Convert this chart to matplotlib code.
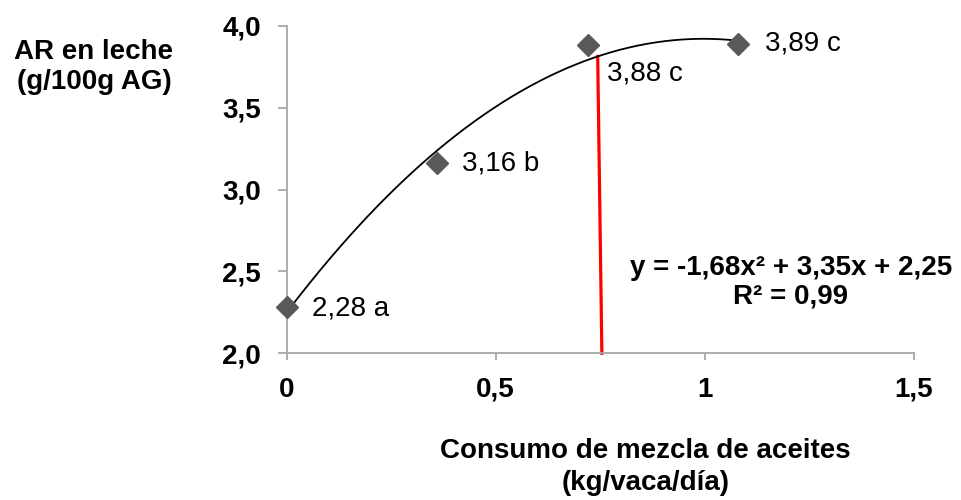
import numpy as np
import matplotlib
matplotlib.use("Agg")
import matplotlib.pyplot as plt

plt.rcParams['font.family'] = ['Liberation Sans', 'DejaVu Sans']

# Oil blend intake (kg/cow/day) and rumenic acid in milk (g/100 g FA)
consumo = [0.0, 0.36, 0.72, 1.08]
ar_leche = [2.28, 3.16, 3.88, 3.89]
etiquetas = ["2,28 a", "3,16 b", "3,88 c", "3,89 c"]
offsets_etiqueta = [(18, -1), (18, 0), (14, -20), (19, 0)]

# Quadratic fit y = a x^2 + b x + c
coef = [-1.68, 3.35, 2.25]
ecuacion = "y = -1,68x² + 3,35x + 2,25\nR² = 0,99"

# Red reference line (x at curve, x at axis base)
x_ref_top, x_ref_bottom = 0.744, 0.754

x_ticks = [0, 0.5, 1, 1.5]
x_ticklabels = ["0", "0,5", "1", "1,5"]
y_ticks = [2.0, 2.5, 3.0, 3.5, 4.0]
y_ticklabels = ["2,0", "2,5", "3,0", "3,5", "4,0"]

fig = plt.figure(figsize=(9.61, 5.0), dpi=100)
ax = fig.add_axes([286.7 / 961, 1 - 353.3 / 500, (913.7 - 286.7) / 961, (353.3 - 25.7) / 500])

ax.set_xlim(0, 1.5)
ax.set_ylim(2.0, 4.0)

# Fitted curve
xs = np.linspace(min(consumo), max(consumo), 200)
ys = np.polyval(coef, xs)
ax.plot(xs, ys, color='black', lw=1.3, zorder=3, clip_on=False)

# Red marker line from the curve to the x axis
y_top = np.polyval(coef, x_ref_top)
ax.plot([x_ref_top, x_ref_bottom], [y_top, 2.0], color='#FF0000', lw=2.3, zorder=2,
        clip_on=False)

# Observed means
ax.plot(consumo, ar_leche, linestyle='none', marker='D', markersize=11.5,
        color='#595959', zorder=4, clip_on=False)

for xv, yv, txt, off in zip(consumo, ar_leche, etiquetas, offsets_etiqueta):
    ax.annotate(txt, (xv, yv), xytext=off, textcoords='offset points',
                ha='left', va='center', fontsize=20, color='black')

ax.text(1.206, 2.433, ecuacion, ha='center', va='center', fontsize=20,
        fontweight='bold', multialignment='center', linespacing=1.15)

for side in ('top', 'right'):
    ax.spines[side].set_visible(False)
for side in ('left', 'bottom'):
    ax.spines[side].set_color('#A6A6A6')
    ax.spines[side].set_linewidth(1.3)

ax.set_xticks(x_ticks)
ax.set_xticklabels(x_ticklabels)
ax.set_yticks(y_ticks)
ax.set_yticklabels(y_ticklabels)
ax.tick_params(axis='both', colors='#A6A6A6', width=1.3, labelcolor='black',
               labelsize=20, direction='out')
ax.tick_params(axis='y', length=6.5, pad=12)
ax.tick_params(axis='x', length=5, pad=12)
for lbl in ax.get_xticklabels() + ax.get_yticklabels():
    lbl.set_fontweight('bold')

fig.text(94 / 961, 1 - 67 / 500, "AR en leche\n(g/100g AG)", ha='center', va='center',
         fontsize=20, fontweight='bold', linespacing=1.22)
fig.text(645.8 / 961, 1 - 467 / 500, "Consumo de mezcla de aceites\n(kg/vaca/día)",
         ha='center', va='center', fontsize=20, fontweight='bold', linespacing=1.25)

fig.savefig("out.png", dpi=100)
